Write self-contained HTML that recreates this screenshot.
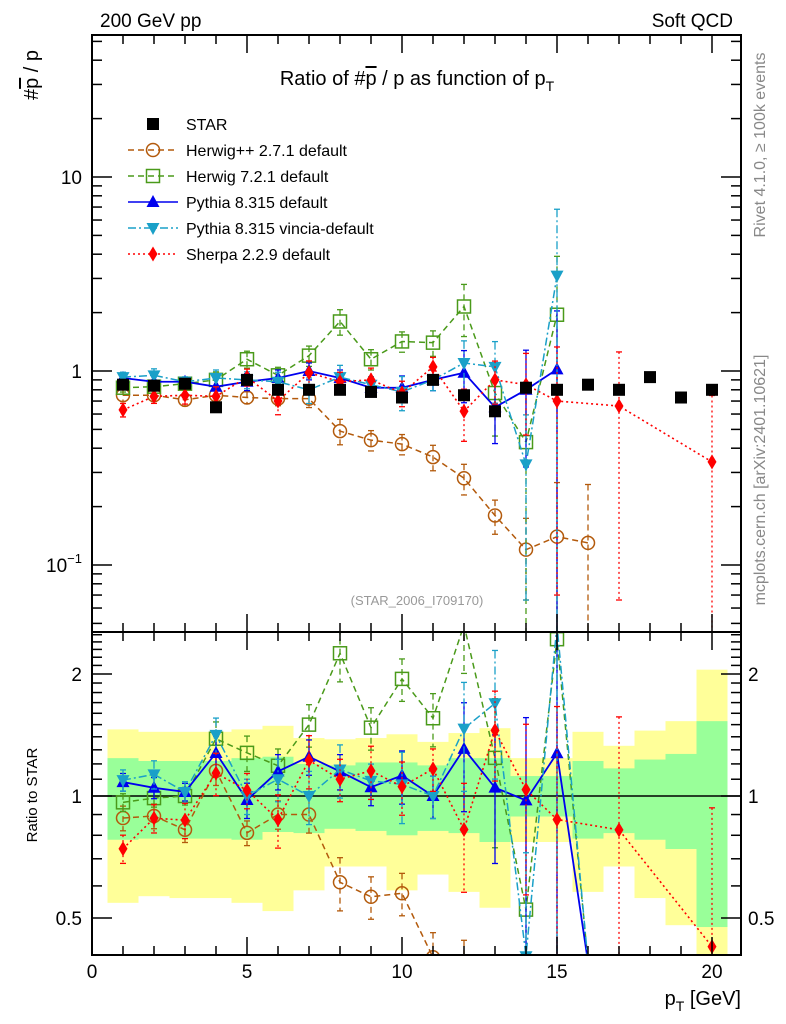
<!DOCTYPE html>
<html><head><meta charset="utf-8"><style>
html,body{margin:0;padding:0;background:#fff;overflow:hidden;width:786px;height:1024px;}
svg{display:block;font-family:"Liberation Sans",sans-serif;overflow:hidden;}
</style></head><body>
<svg id="c" width="786" height="1024" viewBox="0 0 786 1024">
<defs>
<clipPath id="cm"><rect x="92" y="35" width="649" height="597"/></clipPath>
<clipPath id="cr"><rect x="92" y="632" width="649" height="323"/></clipPath>
</defs>
<g id="bands" clip-path="url(#cr)"></g>
<g id="marks"></g>
<g id="frame"></g>
<text x="100" y="27" font-size="19">200 GeV pp</text>
<text x="733" y="27" font-size="19" text-anchor="end">Soft QCD</text>
<text x="417" y="85" font-size="20" text-anchor="middle">Ratio of #<tspan text-decoration="overline">p</tspan> / p as function of p<tspan font-size="14" dy="6">T</tspan></text>
<text x="417" y="605" font-size="13" fill="#999" text-anchor="middle">(STAR_2006_I709170)</text>
<text transform="translate(765,145) rotate(-90)" font-size="16" fill="#888" text-anchor="middle">Rivet 4.1.0, ≥ 100k events</text>
<text transform="translate(765,480) rotate(-90)" font-size="16" fill="#888" text-anchor="middle">mcplots.cern.ch [arXiv:2401.10621]</text>
<text transform="translate(38,100) rotate(-90)" font-size="20" text-anchor="start">#<tspan text-decoration="overline">p</tspan> / p</text>
<text transform="translate(37,795) rotate(-90)" font-size="15" text-anchor="middle">Ratio to STAR</text>
<text x="741" y="1005" font-size="20" text-anchor="end">p<tspan font-size="14" dy="6">T</tspan><tspan dy="-6"> [GeV]</tspan></text>
<g id="legend"></g>
</svg>
<script>
const xs=[1,2,3,4,5,6,7,8,9,10,11,12,13,14,15,16,17,18,19,20];
const starVals=[0.85,0.84,0.86,0.65,0.9,0.8,0.8,0.8,0.78,0.73,0.9,0.75,0.62,0.82,0.8,0.85,0.8,0.93,0.73,0.8];
const herwigPPVals=[0.75,0.75,0.71,0.75,0.73,0.72,0.72,0.49,0.44,0.42,0.36,0.28,0.18,0.12,0.14,0.13];
const herwigPPErr=[0.07,0.07,0.07,0.08,0.07,0.08,0.1,0.15,0.12,0.12,0.15,0.18,0.2,0.45,0.9,1.0];
const herwig7Vals=[0.82,0.83,0.86,0.9,1.15,0.95,1.2,1.8,1.15,1.42,1.4,2.15,0.77,0.43,1.95,0.01];
const herwig7Err=[0.05,0.05,0.05,0.1,0.1,0.1,0.12,0.15,0.12,0.12,0.15,0.3,0.4,0.9,1.0,0];
const pythiaVals=[0.92,0.88,0.88,0.83,0.88,0.92,1.0,0.92,0.82,0.82,0.9,0.98,0.65,0.8,1.02,0.01];
const pythiaErr=[0.05,0.06,0.05,0.1,0.1,0.1,0.1,0.1,0.1,0.15,0.12,0.3,0.35,0.6,1.0,0];
const vinciaVals=[0.93,0.95,0.88,0.92,0.9,0.88,0.8,0.93,0.85,0.78,0.9,1.1,1.05,0.33,3.1,0.01];
const vinciaErr=[0.06,0.08,0.06,0.1,0.1,0.12,0.15,0.15,0.1,0.2,0.12,0.3,0.35,0.8,1.2,0];
const sherpaX=[1,2,3,4,5,6,7,8,9,10,11,12,13,14,15,17,20];
const sherpaVals=[0.63,0.74,0.75,0.74,0.93,0.7,0.98,0.88,0.9,0.77,1.05,0.62,0.9,0.85,0.7,0.66,0.34];
const sherpaErr=[0.08,0.08,0.1,0.12,0.1,0.15,0.15,0.12,0.15,0.15,0.12,0.3,0.25,0.45,0.9,0.9,1.2];
const greenUp=[1.24,1.22,1.22,1.22,1.24,1.25,1.20,1.19,1.21,1.21,1.19,1.24,1.24,1.12,1.12,1.22,1.17,1.23,1.27,1.53];
const greenLo=[0.78,0.785,0.785,0.785,0.78,0.815,0.81,0.83,0.82,0.80,0.82,0.81,0.77,0.89,0.89,0.785,0.81,0.78,0.74,0.475];
const yellowUp=[1.46,1.44,1.44,1.44,1.46,1.49,1.39,1.38,1.39,1.42,1.36,1.43,1.47,1.24,1.24,1.44,1.33,1.45,1.53,2.05];
const yellowLo=[0.545,0.566,0.56,0.56,0.545,0.52,0.585,0.67,0.67,0.585,0.64,0.58,0.53,0.77,0.77,0.58,0.67,0.56,0.48,0.38];
const mainTicks=[{v:10,t:"10"},{v:1,t:"1"},{v:0.1,t:"10",e:"−1"}];
const ratioTicks=[2,1,0.5];
const xTicks=[0,5,10,15,20];

const NS="http://www.w3.org/2000/svg";
const X=v=>92+31*v;
const Y=v=>Math.min(Math.max(371-194*Math.log10(v),30),640);
const R=v=>Math.min(Math.max(796-122*Math.log2(v),625),962);
function el(tag,attrs,parent){const e=document.createElementNS(NS,tag);for(const k in attrs)e.setAttribute(k,attrs[k]);parent.appendChild(e);return e;}
const bands=document.getElementById('bands'),marks=document.getElementById('marks'),frame=document.getElementById('frame');
xs.forEach((x,i)=>{
  const y=el('rect',{x:X(x-0.5),y:R(yellowUp[i]),width:31,height:Math.min(R(yellowLo[i]),955)-R(yellowUp[i]),fill:'#ffff99'},bands);
  
  
  const g=el('rect',{x:X(x-0.5),y:R(greenUp[i]),width:31,height:R(greenLo[i])-R(greenUp[i]),fill:'#99ff99'},bands);
  
  
});
el('line',{x1:92,x2:741,y1:R(1),y2:R(1),stroke:'#000','stroke-width':1.5},bands);

function marker(p,type,color,cx,cy,name){
  let m;
  if(type==='sq') m=el('rect',{x:cx-6,y:cy-6,width:12,height:12,fill:'#000'},p);
  else if(type==='osq') m=el('rect',{x:cx-6.5,y:cy-6.5,width:13,height:13,fill:'none',stroke:color,'stroke-width':1.5},p);
  else if(type==='oc') m=el('circle',{cx:cx,cy:cy,r:6.5,fill:'none',stroke:color,'stroke-width':1.5},p);
  else if(type==='tu') m=el('path',{d:`M${cx},${cy-7}L${cx+6.5},${cy+5}L${cx-6.5},${cy+5}Z`,fill:color},p);
  else if(type==='td') m=el('path',{d:`M${cx},${cy+7}L${cx+6.5},${cy-5}L${cx-6.5},${cy-5}Z`,fill:color},p);
  else m=el('path',{d:`M${cx},${cy-7.5}L${cx+4.5},${cy}L${cx},${cy+7.5}L${cx-4.5},${cy}Z`,fill:color},p);
  
  
}
const series=[
 {name:'herwigpp',xv:xs,v:herwigPPVals,e:herwigPPErr,c:'#b35a0c',t:'oc',d:'6,4',w:1.5},
 {name:'herwig7',xv:xs,v:herwig7Vals,e:herwig7Err,c:'#4a9a1a',t:'osq',d:'6,4',w:1.5},
 {name:'pythia',xv:xs,v:pythiaVals,e:pythiaErr,c:'#0000ee',t:'tu',d:'',w:1.8},
 {name:'vincia',xv:xs,v:vinciaVals,e:vinciaErr,c:'#1aa0c8',t:'td',d:'8,3,2,3',w:1.5},
 {name:'sherpa',xv:sherpaX,v:sherpaVals,e:sherpaErr,c:'#ff0000',t:'dm',d:'2,3',w:1.6}
];
function drawPanel(clip,fy,ratio){
  const g=el('g',{'clip-path':clip},marks);
  
  
  series.forEach(s=>{
    const pts=[];
    s.v.forEach((v,i)=>{
      if(!ratio && v<0.02) return;
      const x=s.xv[i],ref=starVals[x-1];
      const val=ratio?v/ref:v, e=val*s.e[i];
      const hi=val+e, lo=Math.max(val-e,1e-4);
      const cx=X(x), cy=fy(val);
      pts.push(cx+','+cy);
      if(e>0){
      const b=el('line',{x1:cx,x2:cx,y1:fy(hi),y2:fy(lo),stroke:s.c,'stroke-width':1.3,'stroke-dasharray':s.d},g);
      
      
      el('line',{x1:cx-3,x2:cx+3,y1:fy(hi),y2:fy(hi),stroke:s.c,'stroke-width':1.3},g);
      el('line',{x1:cx-3,x2:cx+3,y1:fy(lo),y2:fy(lo),stroke:s.c,'stroke-width':1.3},g);
      }
    });
    const l=el('polyline',{points:pts.join(' '),fill:'none',stroke:s.c,'stroke-width':s.w,'stroke-dasharray':s.d},g);
    
    
    s.v.forEach((v,i)=>{if(!ratio && v<0.02) return;const x=s.xv[i];const val=ratio?v/starVals[x-1]:v;if(ratio&&val<0.2)return;marker(g,s.t,s.c,X(x),fy(val),s.name+'-point');});
  });
  if(!ratio) starVals.forEach((v,i)=>marker(g,'sq','#000',X(xs[i]),fy(v),'star-point'));
}
drawPanel('url(#cm)',Y,false);
drawPanel('url(#cr)',R,true);

el('rect',{x:92,y:35,width:649,height:597,fill:'none',stroke:'#000','stroke-width':2},frame);
el('rect',{x:92,y:632,width:649,height:323,fill:'none',stroke:'#000','stroke-width':2},frame);
function tick(x1,y1,x2,y2){el('line',{x1,y1,x2,y2,stroke:'#000','stroke-width':1.5},frame);}
for(let d=-2;d<=1;d++)for(let k=1;k<10;k++){const v=k*Math.pow(10,d);const yy=371-194*Math.log10(v);if(yy<35||yy>632)continue;const L=k===1?20:10;tick(92,yy,92+L,yy);tick(741,yy,741-L,yy);}
mainTicks.forEach(t=>{const tx=el('text',{x:82,y:Y(t.v)+7,'font-size':19,'text-anchor':'end'},frame);tx.textContent=t.t;if(t.e){const s=el('tspan',{'font-size':13,dy:-9},tx);s.textContent=t.e;}
  });
[0.5,0.6,0.7,0.8,0.9,1,1.1,1.2,1.3,1.4,1.5,1.6,1.7,1.8,1.9,2,2.1,2.2,2.3,2.4,2.5].forEach(v=>{const y=796-122*Math.log2(v);if(y<632||y>955)return;const L=ratioTicks.includes(v)?20:10;tick(92,y,92+L,y);tick(741,y,741-L,y);});
ratioTicks.forEach(v=>{[[82,'end'],[748,'start']].forEach(([x,a])=>{const tx=el('text',{x:x,y:R(v)+7,'font-size':19,'text-anchor':a},frame);tx.textContent=String(v);
  });});
for(let v=0;v<=20;v++){const x=X(v);const L=v%5===0?18:9;tick(x,35,x,35+L);tick(x,632,x,632-L);tick(x,632,x,632+L);tick(x,955,x,955-L);}
xTicks.forEach(v=>{const tx=el('text',{x:X(v),y:978,'font-size':19,'text-anchor':'middle'},frame);tx.textContent=String(v);
  });

const leg=document.getElementById('legend');
const legItems=[['STAR','sq','#000',''],['Herwig++ 2.7.1 default','oc','#b35a0c','6,4'],['Herwig 7.2.1 default','osq','#4a9a1a','6,4'],['Pythia 8.315 default','tu','#0000ee',''],['Pythia 8.315 vincia-default','td','#1aa0c8','8,3,2,3'],['Sherpa 2.2.9 default','dm','#ff0000','2,3']];
legItems.forEach((it,i)=>{const y=124+26*i;
  if(i>0) el('line',{x1:128,x2:178,y1:y,y2:y,stroke:it[2],'stroke-width':1.4,'stroke-dasharray':it[3]},leg);
  marker(leg,it[1],it[2],153,y,'legend-marker');
  const tx=el('text',{x:186,y:y+6,'font-size':16},leg);tx.textContent=it[0];
  });
</script>
</body></html>
